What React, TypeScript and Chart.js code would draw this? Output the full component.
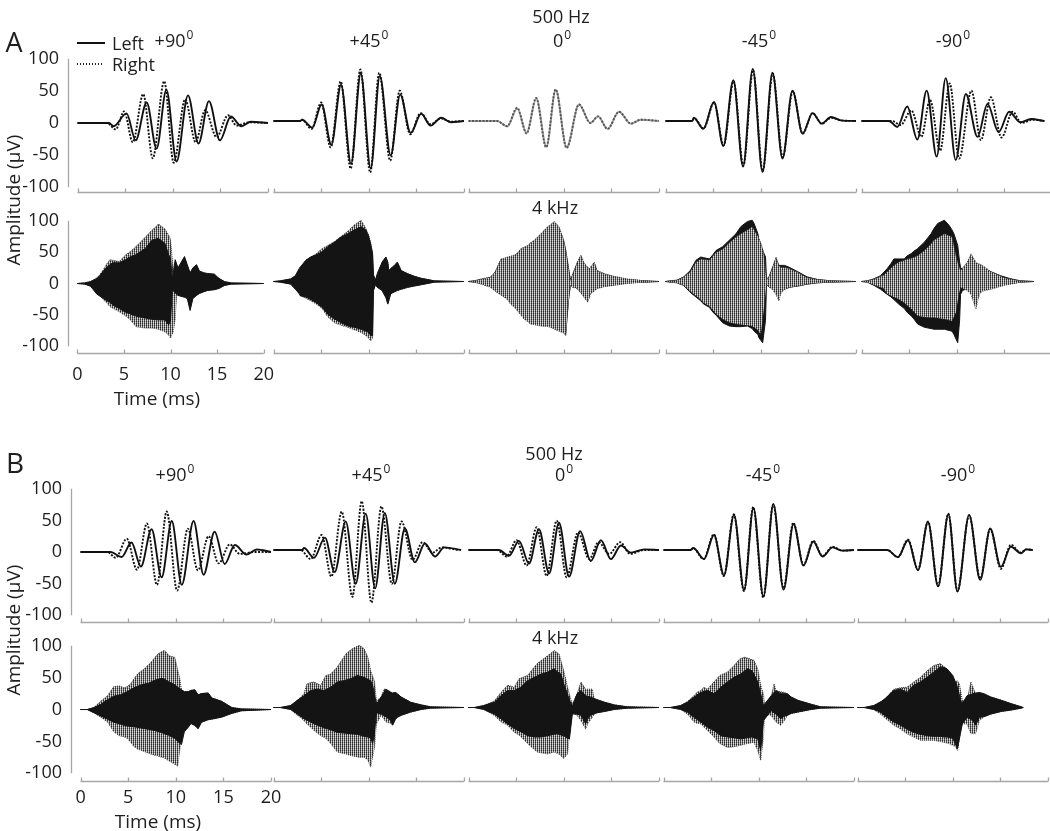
import React, { useEffect, useRef } from "react";
import { Chart, registerables } from "chart.js";

Chart.register(...registerables);

const FONT = "'Open Sans', 'Liberation Sans', sans-serif";
const INK = "#1f1d1e";
Chart.defaults.font.family = FONT;

// ---------- axis ticks / labels ----------
const timeTicks = [0, 5, 10, 15, 20];
const ampTicks = [-100, -50, 0, 50, 100];
const angleLabels = ["+90", "+45", "0", "-45", "-90"];

// ---------- 500 Hz waveforms: [time ms, amplitude uV] (extrema) ----------
const A500_p90_L = [[0,0],[3.3,0],[3.8,-5],[5.15,15],[6.1,-27],[7.26,32],[8.3,-40],[9.33,52],[10.4,-60],[11.6,43],[12.7,-32],[13.8,34],[14.95,-27],[16.1,10],[17.2,-5],[18.2,2],[20,0]];
const A500_p90_R = [[0,0],[3.1,0],[4.0,-10],[4.9,18],[5.8,-30],[6.9,45],[7.9,-55],[9.1,65],[10.1,-62],[11.3,37],[12.4,-30],[13.4,20],[14.6,-22],[15.8,12],[16.7,-4],[18,1],[20,0]];
const A500_p45_L = [[0,0],[2.8,0],[3.0,2],[4.07,-10],[5.05,25],[6.07,-36],[7.09,55],[8.14,-65],[9.16,72],[10.2,-72],[11.16,68],[12.3,-52],[13.3,40],[14.4,-18],[15.5,11],[16.5,-7],[17.6,5],[18.6,-2],[20,0]];
const A500_p45_R = [[0,0],[2.8,0],[3.0,2],[4.0,-12],[5.0,28],[6.0,-40],[7.05,60],[8.1,-72],[9.12,78],[10.15,-78],[11.1,73],[12.25,-60],[13.25,46],[14.35,-20],[15.45,12],[16.5,-5],[17.6,4],[18.6,-1],[20,0]];
const A500_0_L = [[0,0],[3.0,0],[4.07,-8],[5.12,19],[6.1,-18],[7.12,34],[8.18,-39],[9.16,47],[10.3,-40],[11.6,25],[12.8,-3],[13.6,7],[14.6,-12],[15.8,14],[17.05,-4],[18.1,2],[20,0]];
const A500_0_R = [[0,0],[3.0,0],[4.05,-8],[5.1,20],[6.1,-19],[7.1,35],[8.15,-40],[9.15,48],[10.3,-41],[11.6,25],[12.8,-3],[13.6,7],[14.6,-12],[15.8,14],[17.05,-4],[18.1,2],[20,0]];
const A500_m45_L = [[0,0],[2.8,0],[2.98,5],[3.96,-12],[5.09,29],[6.07,-38],[7.12,62],[8.14,-69],[9.16,79],[10.18,-77],[11.23,73],[12.28,-57],[13.33,46],[14.39,-19],[15.44,12],[16.39,-4],[17.37,6],[18.4,1],[20,0]];
const A500_m45_R = [[0,0],[2.8,0],[3.0,4],[4.0,-11],[5.1,28],[6.1,-37],[7.15,60],[8.17,-68],[9.19,77],[10.2,-76],[11.26,72],[12.3,-55],[13.36,45],[14.4,-19],[15.46,12],[16.4,-4],[17.4,5],[18.4,1],[20,0]];
const A500_m90_L = [[0,0],[2.88,0],[3.75,-9],[4.8,22],[5.86,-28],[6.84,46],[7.89,-54],[8.84,65],[9.89,-59],[10.95,41],[12.18,-24],[13.23,26],[14.39,-17],[15.5,14],[16.67,-2],[17.8,3],[19.2,0]];
const A500_m90_R = [[0,0],[3.2,0],[4.1,-6],[5.23,16],[6.28,-24],[7.19,32],[8.25,-45],[9.26,57],[10.25,-57],[11.54,46],[12.53,-29],[13.58,36],[14.7,-25],[15.86,14],[16.8,-3],[18,2],[19.2,0]];

const B500_p90_L = [[0,0],[3.17,0],[4.3,-8],[5.35,15],[6.34,-23],[7.46,36],[8.52,-40],[9.58,49],[10.63,-52],[11.87,49],[12.92,-36],[14.08,32],[15.14,-19],[16.2,11],[17.43,-4],[18.5,4],[20,0]];
const B500_p90_R = [[0,0],[2.82,0],[3.7,-9],[4.86,21],[5.92,-28],[6.97,45],[8.03,-52],[9.05,64],[10.14,-61],[11.27,37],[12.32,-29],[13.45,25],[14.5,-18],[15.67,12],[16.73,-3],[18.3,0],[20,0]];
const B500_p45_L = [[0,0],[3.02,0],[3.2,3],[4.25,-12],[5.4,19],[6.42,-34],[7.58,44],[8.63,-52],[9.68,56],[10.67,-59],[11.68,57],[12.74,-52],[13.79,33],[14.84,-19],[15.89,10],[16.95,-10],[17.93,4],[19.7,0]];
const B500_p45_R = [[0,0],[2.84,0],[3.9,-14],[5.05,23],[6.07,-41],[7.16,59],[8.28,-72],[9.26,75],[10.28,-81],[11.33,67],[12.42,-52],[13.44,44],[14.6,-15],[15.65,12],[16.7,-4],[17.68,4],[19.33,0]];
const B500_0_L = [[0,0],[3.19,0],[4.25,-9],[5.3,14],[6.35,-21],[7.4,32],[8.46,-36],[9.5,42],[10.56,-41],[11.72,29],[12.84,-17],[13.9,15],[14.95,-14],[16,7],[17.05,-4],[18.46,1],[20,0]];
const B500_0_R = [[0,0],[3.0,0],[4.0,-10],[5.05,15],[6.1,-24],[7.16,35],[8.2,-40],[9.26,45],[10.3,-42],[11.5,27],[12.67,-14],[13.65,12],[14.77,-6],[15.93,12],[16.98,-6],[18.46,0],[20,0]];
const B500_m45_L = [[0,0],[2.84,0],[3.12,3],[4.25,-14],[5.3,23],[6.35,-39],[7.4,54],[8.46,-62],[9.44,65],[10.49,-72],[11.54,71],[12.6,-61],[13.65,40],[14.7,-24],[15.72,13],[16.7,-10],[17.75,4],[18.8,-1],[20,0]];
const B500_m45_R = [[0,0],[2.84,0],[3.1,3],[4.22,-14],[5.28,24],[6.33,-40],[7.38,55],[8.44,-63],[9.42,66],[10.47,-73],[11.52,70],[12.6,-59],[13.63,42],[14.7,-23],[15.72,14],[16.7,-9],[17.75,5],[18.8,-1],[20,0]];
const B500_m90_L = [[0,0],[3.12,0],[4.25,-11],[5.3,15],[6.35,-31],[7.4,43],[8.46,-56],[9.54,55],[10.49,-64],[11.72,54],[12.88,-46],[13.93,33],[15.05,-26],[16.1,5],[17.16,-5],[17.7,1],[18.4,0]];
const B500_m90_R = [[0,0],[3.12,0],[4.25,-11],[5.3,16],[6.35,-30],[7.4,44],[8.46,-55],[9.54,56],[10.49,-63],[11.72,53],[12.88,-44],[13.93,32],[15.05,-29],[16.1,8],[17.16,-4],[17.7,1],[18.4,0]];

// ---------- 4 kHz responses: envelope [time ms, upper uV, lower uV] ----------
const A4k_p90_L = [[0,0,0],[0.8,1,-1],[1.4,3,-4],[2.1,8,-17],[2.4,12,-20],[2.8,20,-24],[3.1,25,-27],[3.5,30,-30],[3.8,33,-34],[4.5,33,-40],[5.2,38,-46],[5.6,42,-48],[6.3,46,-52],[6.6,49,-53],[7.3,56,-55],[8.0,69,-57],[8.7,72,-58],[9.4,64,-58],[9.8,46,-66],[10.0,40,-60],[10.2,5,-8],[10.4,28,-14],[10.5,38,-15],[10.8,25,-19],[11.5,43,-22],[11.8,30,-24],[12.1,17,-43],[12.4,25,-24],[12.8,30,-19],[13.1,20,-16],[13.6,17,-13],[14.0,16,-11],[14.7,15,-10],[15.2,8,-8],[15.8,3,-3],[16.5,1,-1],[20,0,0]];
const A4k_p90_R = [[0,0,0],[0.8,1,-1],[1.4,3,-4],[2.1,9,-12],[2.4,14,-17],[2.8,22,-26],[3.1,30,-30],[3.5,38,-37],[4.5,35,-45],[5.2,46,-52],[5.7,51,-58],[6.3,59,-69],[7.3,74,-71],[8.0,85,-71],[8.4,90,-72],[8.7,95,-73],[9.4,87,-77],[9.8,77,-82],[10.0,70,-87],[10.3,20,-77],[10.5,10,-56],[10.7,20,-9],[11.5,40,-20],[11.8,28,-22],[12.1,15,-40],[12.4,22,-22],[12.8,28,-18],[13.1,18,-15],[13.6,15,-12],[14.7,13,-9],[15.8,3,-3],[16.5,1,-1],[20,0,0]];
const A4k_p45_L = [[0,0,0],[0.7,1,-1],[1.8,4,-4],[2.3,9,-12],[2.7,20,-18],[2.8,22,-22],[3.4,33,-24],[3.9,38,-28],[4.4,41,-32],[5.1,46,-40],[5.7,54,-51],[6.4,61,-58],[7.1,69,-64],[7.8,74,-69],[8.5,80,-71],[9.2,85,-74],[9.7,80,-77],[10.0,69,-79],[10.2,58,-84],[10.4,43,-84],[10.5,10,-14],[10.7,2,-5],[10.9,12,-9],[11.4,30,-14],[11.8,38,-25],[12.0,30,-35],[12.1,17,-30],[12.3,20,-19],[12.7,25,-16],[13.0,30,-14],[13.4,17,-12],[14.1,12,-9],[14.8,8,-7],[15.5,5,-5],[16.2,3,-3],[16.9,1,-1],[20,0,0]];
const A4k_p45_R = [[0,0,0],[0.7,1,-1],[1.8,4,-4],[2.3,9,-12],[2.8,22,-22],[3.4,33,-26],[3.9,38,-30],[4.4,42,-34],[5.1,51,-42],[5.7,56,-55],[6.4,62,-64],[7.1,70,-68],[7.8,78,-71],[8.5,88,-75],[9.2,95,-79],[9.7,82,-84],[10.0,72,-88],[10.2,60,-92],[10.4,45,-88],[10.5,10,-14],[10.7,2,-5],[10.9,12,-9],[11.4,30,-14],[11.8,38,-25],[12.0,30,-35],[12.1,17,-30],[12.3,20,-19],[12.7,25,-16],[13.0,30,-14],[13.4,17,-12],[14.1,12,-9],[14.8,8,-7],[15.5,5,-5],[16.2,3,-3],[16.9,1,-1],[20,0,0]];
const A4k_0_L = [[0,0,0],[0.6,1,-1],[1.3,3,-3],[2.3,6,-8],[2.8,14,-14],[3.4,33,-20],[4.1,36,-27],[4.8,39,-38],[5.5,49,-50],[6.2,54,-60],[6.9,62,-65],[7.6,72,-67],[8.3,83,-68],[9.0,90,-72],[9.5,83,-75],[10.0,62,-78],[10.2,48,-82],[10.5,20,-28],[10.7,2,-5],[10.9,9,-8],[11.4,28,-10],[11.8,39,-17],[12.1,28,-22],[12.5,20,-30],[12.8,20,-18],[13.2,28,-14],[13.5,16,-10],[14.3,11,-7],[15.3,7,-5],[16.7,3,-2],[18.5,1,-1],[20,0,0]];
const A4k_0_R = [[0,0,0],[0.6,1,-1],[1.3,4,-4],[2.3,7,-9],[2.8,15,-15],[3.4,35,-21],[3.7,36,-24],[4.1,38,-28],[4.4,39,-35],[4.8,41,-40],[5.1,43,-45],[5.5,51,-52],[5.8,53,-58],[6.2,56,-62],[6.5,60,-66],[6.9,64,-67],[7.6,74,-69],[8.3,85,-70],[8.6,88,-71],[9.0,93,-74],[9.5,85,-77],[10.0,64,-80],[10.2,50,-84],[10.5,22,-30],[10.7,2,-5],[10.9,10,-9],[11.3,25,-10],[11.4,30,-11],[11.8,41,-18],[12.1,30,-24],[12.5,22,-32],[12.7,20,-25],[12.8,22,-19],[13.2,30,-15],[13.5,17,-11],[14.3,12,-8],[15.3,8,-6],[16.7,4,-3],[18.5,1,-1],[20,0,0]];
const A4k_m45_L = [[0,0,0],[0.5,1,-1],[1.2,2,-2],[1.9,7,-6],[2.6,17,-17],[3.2,33,-24],[3.7,38,-30],[4.0,37,-35],[4.6,35,-40],[5.0,42,-48],[5.3,48,-52],[6.0,54,-64],[6.7,64,-69],[7.4,74,-70],[7.9,85,-70],[8.6,93,-69],[9.1,95,-73],[9.3,90,-77],[9.7,74,-82],[9.8,65,-87],[10.2,48,-95],[10.5,38,-60],[10.6,3,-4],[10.9,8,-9],[11.2,20,-10],[11.6,35,-12],[11.9,25,-14],[12.5,25,-12],[13.0,22,-9],[13.9,15,-7],[14.9,7,-4],[16.0,3,-2],[17.4,1,-1],[20,0,0]];
const A4k_m45_R = [[0,0,0],[0.5,1,-1],[1.2,2,-2],[1.9,7,-6],[2.6,15,-15],[3.2,30,-22],[3.7,35,-28],[4.0,34,-33],[4.6,33,-38],[5.3,45,-50],[6.0,50,-58],[6.7,60,-63],[7.5,70,-66],[8.6,80,-68],[9.1,85,-69],[9.7,70,-75],[10.0,60,-82],[10.3,45,-45],[10.6,3,-4],[10.9,8,-9],[11.2,20,-12],[11.6,38,-20],[11.9,25,-30],[12.1,22,-19],[12.5,22,-12],[13.0,20,-9],[13.9,14,-7],[14.9,6,-4],[16.0,3,-2],[17.4,1,-1],[20,0,0]];
const A4k_m90_L = [[0,0,0],[0.6,1,-1],[1.3,4,-6],[2.0,9,-12],[2.7,20,-20],[3.1,28,-24],[3.4,35,-28],[3.9,35,-35],[4.5,35,-42],[4.8,40,-48],[5.2,43,-53],[5.5,47,-58],[5.9,51,-66],[6.6,61,-71],[7.3,74,-73],[7.6,82,-74],[8.0,90,-74],[8.7,95,-74],[9.2,87,-76],[9.5,80,-77],[9.7,74,-82],[10.1,56,-95],[10.3,30,-60],[10.4,22,-20],[10.6,18,-14],[11.1,15,-11],[11.5,17,-9],[12.2,18,-9],[12.9,20,-9],[13.6,15,-8],[14.6,9,-5],[15.7,4,-3],[16.7,1,-1],[18.1,0,0]];
const A4k_m90_R = [[0,0,0],[0.6,1,-1],[1.3,4,-5],[2.0,8,-9],[2.35,10,-11],[2.7,15,-19],[3.4,25,-24],[3.9,30,-27],[4.5,33,-33],[4.8,35,-37],[5.2,36,-42],[5.9,40,-53],[6.6,48,-55],[7.3,58,-56],[7.6,64,-56],[8.7,74,-58],[9.5,69,-61],[9.9,41,-48],[10.2,25,-20],[10.4,17,-9],[11.1,30,-14],[11.5,43,-20],[12.0,30,-43],[12.2,28,-30],[12.4,27,-19],[12.7,25,-15],[13.6,15,-12],[15.0,6,-6],[16.7,1,-1],[18.1,0,0]];

const B4k_p90_L = [[0,0,0],[0.7,0,0],[1.4,3,-5],[2.1,8,-10],[2.8,15,-15],[3.5,21,-20],[4.2,23,-23],[4.6,26,-25],[4.9,28,-26],[5.6,34,-27],[6.4,39,-29],[6.7,40,-30],[7.1,41,-31],[7.8,46,-33],[8.5,49,-36],[8.8,48,-38],[9.2,44,-40],[9.9,39,-45],[10.2,35,-50],[10.6,31,-55],[10.9,28,-35],[11.3,28,-28],[11.6,30,-22],[12.0,31,-25],[12.35,23,-30],[12.7,25,-20],[13.4,26,-16],[13.8,18,-15],[14.8,13,-12],[15.9,3,-6],[16.9,1,-2],[20,0,0]];
const B4k_p90_R = [[0,0,0],[0.7,0,0],[1.4,3,-5],[2.1,13,-12],[2.8,21,-19],[3.5,36,-35],[4.06,37,-41],[4.6,34,-43],[4.9,36,-45],[5.3,41,-52],[5.6,48,-58],[6.0,56,-62],[6.7,64,-66],[7.4,74,-70],[8.1,87,-73],[8.8,93,-76],[9.35,84,-81],[9.9,82,-86],[10.2,62,-89],[10.4,50,-66],[10.6,31,-40],[10.9,28,-33],[11.3,28,-28],[11.6,30,-22],[12.0,31,-25],[12.35,23,-30],[12.7,25,-20],[13.4,26,-16],[13.8,18,-15],[14.8,13,-12],[15.9,3,-6],[16.9,1,-2],[20,0,0]];
const B4k_p45_L = [[0,0,0],[0.7,0,0],[1.8,3,-3],[2.5,11,-10],[3.2,18,-17],[3.9,26,-22],[4.6,28,-27],[5.3,26,-31],[6.0,31,-34],[6.7,39,-38],[7.4,41,-39],[8.1,44,-40],[8.8,49,-41],[9.5,46,-44],[10.2,41,-46],[10.4,34,-55],[10.6,20,-40],[10.8,5,-8],[11.3,16,-10],[11.8,28,-14],[12.3,23,-20],[12.5,22,-27],[12.8,23,-18],[13.0,21,-15],[13.4,16,-12],[14.4,8,-7],[15.5,4,-3],[16.5,1,-1],[20,0,0]];
const B4k_p45_R = [[0,0,0],[0.7,0,0],[1.8,3,-3],[2.5,11,-12],[2.8,15,-15],[3.2,21,-20],[3.5,36,-25],[3.9,38,-30],[4.25,39,-35],[4.95,34,-43],[5.5,49,-47],[6.0,51,-55],[6.7,62,-68],[7.6,82,-71],[8.3,90,-74],[9.0,95,-76],[9.5,90,-76],[9.9,77,-80],[10.2,56,-91],[10.6,40,-61],[10.8,10,-25],[11.3,16,-12],[11.6,28,-18],[11.8,28,-22],[12.3,24,-24],[12.5,22,-27],[12.8,23,-18],[13.0,21,-15],[13.4,16,-12],[14.4,8,-7],[15.5,4,-3],[16.5,1,-1],[20,0,0]];
const B4k_0_L = [[0,0,0],[0.6,0,0],[1.6,3,-3],[2.7,8,-10],[3.4,18,-17],[4.1,26,-25],[4.8,26,-32],[5.5,31,-37],[6.2,41,-43],[6.9,46,-45],[7.6,51,-45],[8.3,54,-43],[9.0,59,-41],[9.3,55,-40],[9.7,51,-42],[10.0,36,-43],[10.4,20,-47],[10.6,11,-48],[10.9,2,-10],[11.4,21,-10],[11.8,26,-12],[12.3,18,-25],[12.5,17,-18],[12.8,16,-12],[13.5,12,-8],[14.3,8,-6],[15.3,4,-3],[16.7,1,-1],[20,0,0]];
const B4k_0_R = [[0,0,0],[0.6,0,0],[1.6,3,-3],[2.7,10,-12],[3.4,23,-22],[4.1,34,-27],[4.8,31,-38],[5.3,44,-42],[6.2,49,-55],[7.2,67,-68],[8.3,79,-71],[9.0,87,-68],[9.5,82,-71],[10.0,56,-78],[10.4,31,-71],[10.6,20,-40],[10.9,5,-8],[11.4,21,-12],[11.8,39,-20],[12.3,28,-33],[12.5,28,-25],[13.0,28,-15],[13.2,13,-10],[13.5,12,-8],[14.3,8,-6],[15.3,4,-3],[16.7,1,-1],[20,0,0]];
const B4k_m45_L = [[0,0,0],[0.7,0,0],[1.8,3,-3],[2.5,8,-7],[3.2,16,-15],[3.9,23,-22],[4.6,26,-30],[5.3,21,-35],[6.0,31,-43],[6.7,39,-45],[7.4,46,-46],[8.1,51,-48],[8.8,59,-46],[9.3,56,-45],[9.9,39,-48],[10.2,21,-66],[10.5,3,-20],[11.3,18,-5],[11.8,26,-10],[12.3,21,-17],[12.7,21,-13],[13.0,21,-12],[13.4,16,-9],[14.1,11,-7],[15.5,5,-3],[16.5,1,-1],[20,0,0]];
const B4k_m45_R = [[0,0,0],[0.7,0,0],[1.8,3,-3],[2.5,9,-10],[3.2,18,-22],[3.5,23,-24],[3.9,26,-25],[4.25,31,-30],[4.6,28,-35],[5.3,39,-45],[5.9,49,-55],[6.7,54,-61],[7.4,64,-60],[8.0,74,-58],[8.5,77,-56],[9.5,72,-53],[9.9,59,-66],[10.2,34,-81],[10.5,20,-45],[10.6,5,-10],[11.3,16,-12],[11.6,36,-18],[11.8,26,-22],[12.3,24,-27],[12.7,23,-20],[13.0,21,-12],[13.4,16,-9],[14.1,11,-7],[15.5,5,-3],[16.5,1,-1],[20,0,0]];
const B4k_m90_L = [[0,0,0],[0.7,0,0],[1.7,3,-3],[2.4,8,-7],[3.1,16,-15],[3.8,26,-22],[4.5,28,-27],[5.2,23,-33],[5.9,34,-38],[6.6,39,-41],[7.3,46,-43],[8.0,54,-44],[8.7,62,-44],[9.1,61,-45],[9.4,59,-45],[10.0,49,-47],[10.5,31,-63],[10.8,12,-40],[11.0,6,-25],[11.5,18,-15],[12.1,21,-20],[12.4,22,-27],[12.8,23,-15],[13.3,21,-14],[14.0,16,-10],[15.1,11,-6],[16.1,6,-4],[17.2,1,-1],[17.4,0,0]];
const B4k_m90_R = [[0,0,0],[0.7,0,0],[1.7,3,-3],[2.4,9,-10],[2.8,12,-15],[3.8,28,-27],[4.5,30,-33],[5.2,31,-40],[5.9,39,-45],[6.6,46,-50],[7.3,56,-50],[8.0,64,-50],[8.7,67,-52],[9.6,56,-55],[10.3,39,-60],[10.5,41,-66],[10.7,36,-45],[11.0,11,-25],[11.5,11,-25],[11.9,39,-40],[12.4,21,-40],[12.8,18,-20],[13.3,18,-14],[14.0,16,-10],[15.1,11,-6],[16.1,6,-4],[17.2,1,-1],[17.4,0,0]];

// ---------- panel groupings ----------
const A500 = [
  { L: A500_p90_L, R: A500_p90_R, gray: false },
  { L: A500_p45_L, R: A500_p45_R, gray: false },
  { L: A500_0_L, R: A500_0_R, gray: true },
  { L: A500_m45_L, R: A500_m45_R, gray: false },
  { L: A500_m90_L, R: A500_m90_R, gray: false },
];
const B500 = [
  { L: B500_p90_L, R: B500_p90_R, gray: false },
  { L: B500_p45_L, R: B500_p45_R, gray: false },
  { L: B500_0_L, R: B500_0_R, gray: false },
  { L: B500_m45_L, R: B500_m45_R, gray: false },
  { L: B500_m90_L, R: B500_m90_R, gray: false },
];
const A4k = [
  { L: A4k_p90_L, R: A4k_p90_R, rightOnTop: false },
  { L: A4k_p45_L, R: A4k_p45_R, rightOnTop: false },
  { L: A4k_0_L, R: A4k_0_R, rightOnTop: true },
  { L: A4k_m45_L, R: A4k_m45_R, rightOnTop: true },
  { L: A4k_m90_L, R: A4k_m90_R, rightOnTop: true },
];
const B4k = [
  { L: B4k_p90_L, R: B4k_p90_R, rightOnTop: false },
  { L: B4k_p45_L, R: B4k_p45_R, rightOnTop: false },
  { L: B4k_0_L, R: B4k_0_R, rightOnTop: false },
  { L: B4k_m45_L, R: B4k_m45_R, rightOnTop: false },
  { L: B4k_m90_L, R: B4k_m90_R, rightOnTop: false },
];

// ---------- layout ----------
const PAD_L = 50;
const PAD_R = 16;
const PAD_T = 16;
const PAD_B = 40;
const CHART_W = 200;

type Row = { yTop: number; yBot: number; axisY: number; xTickPad: number };
const SECTIONS = [
  {
    x0s: [77, 273, 468, 665, 861],
    rows: [
      { yTop: 55, yBot: 187, axisY: 193, xTickPad: 10 },
      { yTop: 217, yBot: 346, axisY: 354, xTickPad: 10 },
    ],
    low: A500,
    high: A4k,
  },
  {
    x0s: [80, 273, 468, 663, 857],
    rows: [
      { yTop: 485, yBot: 615, axisY: 623, xTickPad: 5 },
      { yTop: 642, yBot: 773, axisY: 782, xTickPad: 5 },
    ],
    low: B500,
    high: B4k,
  },
];

type PanelSpec = {
  key: string;
  x0: number;
  row: Row;
  kind: "500" | "4k";
  series: any;
  showY: boolean;
  showX: boolean;
};

const PANELS: PanelSpec[] = [];
SECTIONS.forEach((sec, si) => {
  sec.rows.forEach((row, ri) => {
    sec.x0s.forEach((x0, ci) => {
      PANELS.push({
        key: `${si}-${ri}-${ci}`,
        x0,
        row,
        kind: ri === 0 ? "500" : "4k",
        series: ri === 0 ? sec.low[ci] : sec.high[ci],
        showY: ci === 0,
        showX: ci === 0 && ri === 1,
      });
    });
  });
});

// ---------- helpers ----------
const offsetAxes = {
  id: "offsetAxes",
  afterDatasetsDraw(chart: any, _args: any, opts: any) {
    const { ctx, chartArea, scales } = chart;
    const x = scales.x;
    const y = scales.y;
    ctx.save();
    ctx.strokeStyle = "#a6a6a6";
    ctx.lineWidth = 1.3;
    const yb = Math.round(chartArea.bottom) - 0.5;
    ctx.beginPath();
    ctx.moveTo(x.getPixelForValue(timeTicks[0]), yb);
    ctx.lineTo(x.getPixelForValue(timeTicks[timeTicks.length - 1]), yb);
    timeTicks.forEach((v) => {
      const px = Math.round(x.getPixelForValue(v)) + 0.5;
      ctx.moveTo(px, yb);
      ctx.lineTo(px, yb - 4);
    });
    if (opts && opts.yAxis) {
      const xl = Math.round(chartArea.left) + 0.5;
      ctx.moveTo(xl, y.getPixelForValue(ampTicks[0]));
      ctx.lineTo(xl, y.getPixelForValue(ampTicks[ampTicks.length - 1]));
    }
    ctx.stroke();
    ctx.restore();
  },
};

function makePattern(): any {
  const c = document.createElement("canvas");
  c.width = 2;
  c.height = 2;
  const g = c.getContext("2d");
  if (!g) return "#8a8a8a";
  g.fillStyle = "#2a2a2a";
  g.fillRect(0, 0, 1, 1);
  g.fillStyle = "#555555";
  g.fillRect(0, 1, 1, 1);
  g.fillStyle = "#b4b4b4";
  g.fillRect(1, 0, 1, 1);
  g.fillStyle = "#dcdcdc";
  g.fillRect(1, 1, 1, 1);
  return g.createPattern(c, "repeat") || "#8a8a8a";
}

function waveDatasets(s: any) {
  const L = {
    data: s.L.map(([t, v]: number[]) => ({ x: t, y: v })),
    borderColor: s.gray ? "#a0a0a0" : "#111",
    borderWidth: 1.9,
    pointRadius: 0,
    cubicInterpolationMode: "monotone",
    fill: false,
  };
  const R = {
    data: s.R.map(([t, v]: number[]) => ({ x: t, y: v })),
    borderColor: s.gray ? "#555" : "#111",
    borderWidth: 1.9,
    borderDash: [2, 1.5],
    pointRadius: 0,
    cubicInterpolationMode: "monotone",
    fill: false,
  };
  return s.gray ? [R, L] : [L, R];
}

function envelope(arr: number[][], fillStyle: any, edge: string, dash: number[]) {
  return [
    {
      data: arr.map(([t, hi]) => ({ x: t, y: hi })),
      borderColor: edge,
      borderWidth: 1,
      borderDash: dash,
      backgroundColor: fillStyle,
      fill: "+1",
      pointRadius: 0,
      tension: 0,
    },
    {
      data: arr.map(([t, , lo]) => ({ x: t, y: lo })),
      borderColor: edge,
      borderWidth: 1,
      borderDash: dash,
      pointRadius: 0,
      tension: 0,
      fill: false,
    },
  ];
}

function envDatasets(s: any, pattern: any) {
  const left = envelope(s.L, "#141414", "#141414", []);
  const right = envelope(s.R, pattern, "#3a3a3a", [1, 1]);
  return s.rightOnTop ? [...right, ...left] : [...left, ...right];
}

function buildConfig(spec: PanelSpec): any {
  const { row } = spec;
  const unit = (row.yBot - row.yTop) / 200;
  const yMin = -100 - (row.axisY - row.yBot) / unit;
  const datasets = spec.kind === "500" ? waveDatasets(spec.series) : envDatasets(spec.series, makePattern());
  const tickFont = { family: FONT, size: 18 };
  return {
    type: "line",
    data: { datasets },
    options: {
      animation: false,
      responsive: false,
      devicePixelRatio: 1,
      events: [],
      layout: { padding: { left: 0, right: PAD_R, top: PAD_T, bottom: 0 } },
      plugins: {
        legend: { display: false },
        tooltip: { enabled: false },
        offsetAxes: { yAxis: spec.showY },
      },
      scales: {
        x: {
          type: "linear",
          min: -1,
          max: 20,
          afterBuildTicks: (s: any) => {
            s.ticks = timeTicks.map((v) => ({ value: v }));
          },
          afterFit: (s: any) => {
            s.height = PAD_B;
          },
          grid: { display: false, drawTicks: false },
          border: { display: false },
          ticks: {
            display: spec.showX,
            padding: row.xTickPad,
            maxRotation: 0,
            autoSkip: false,
            font: tickFont,
            color: INK,
          },
        },
        y: {
          type: "linear",
          min: yMin,
          max: 100,
          afterBuildTicks: (s: any) => {
            s.ticks = ampTicks.map((v) => ({ value: v }));
          },
          afterFit: (s: any) => {
            s.width = PAD_L;
          },
          grid: { display: false, drawTicks: false },
          border: { display: false },
          ticks: { display: spec.showY, padding: 9, font: tickFont, color: INK },
        },
      },
    },
    plugins: [offsetAxes],
  };
}

function Panel({ spec }: { spec: PanelSpec }) {
  const ref = useRef<HTMLCanvasElement | null>(null);
  const { x0, row } = spec;
  const chartLeft = x0 - 9;
  const w = PAD_L + CHART_W + PAD_R;
  const h = PAD_T + (row.axisY - row.yTop) + PAD_B;
  useEffect(() => {
    const canvas = ref.current;
    if (!canvas) return;
    const chart = new Chart(canvas, buildConfig(spec));
    return () => chart.destroy();
  }, [spec]);
  return (
    <canvas
      ref={ref}
      width={w}
      height={h}
      style={{ position: "absolute", left: chartLeft - PAD_L, top: row.yTop - PAD_T, width: w, height: h }}
    />
  );
}

function Txt({ x, y, size = 18, children, align = "center", rotate = 0 }: any) {
  const tx = align === "center" ? "-50%" : "0";
  return (
    <div
      style={{
        position: "absolute",
        left: x,
        top: y,
        fontSize: size,
        lineHeight: 1,
        whiteSpace: "nowrap",
        transform: `translate(${tx}, -50%) rotate(${rotate}deg)`,
      }}
    >
      {children}
    </div>
  );
}

function Angle({ label }: { label: string }) {
  return (
    <span>
      {label}
      <span style={{ fontSize: 12, position: "relative", top: -8, marginLeft: 1 }}>0</span>
    </span>
  );
}

const TITLE_X_A = [174, 369, 562, 759, 953];
const TITLE_X_B = [175, 371, 564, 763, 958];

export default function App() {
  return (
    <div
      style={{
        position: "absolute",
        left: 0,
        top: 0,
        width: 1050,
        height: 831,
        overflow: "hidden",
        background: "#fff",
        fontFamily: FONT,
        color: INK,
      }}
    >
      {PANELS.map((p) => (
        <Panel key={p.key} spec={p} />
      ))}

      <Txt x={14} y={41} size={27}>A</Txt>
      <Txt x={15} y={462} size={28}>B</Txt>

      <Txt x={561} y={16} size={18}>500 Hz</Txt>
      <Txt x={555} y={207} size={18}>4 kHz</Txt>
      <Txt x={554} y={453} size={18}>500 Hz</Txt>
      <Txt x={555} y={637} size={18}>4 kHz</Txt>

      {angleLabels.map((a, i) => (
        <Txt key={"ta" + i} x={TITLE_X_A[i]} y={40} size={18}>
          <Angle label={a} />
        </Txt>
      ))}
      {angleLabels.map((a, i) => (
        <Txt key={"tb" + i} x={TITLE_X_B[i]} y={474} size={18}>
          <Angle label={a} />
        </Txt>
      ))}

      {/* legend */}
      <div style={{ position: "absolute", left: 77, top: 42, width: 28, height: 2, background: "#111" }} />
      <Txt x={112} y={43} size={18} align="left">Left</Txt>
      <div
        style={{
          position: "absolute",
          left: 77,
          top: 63,
          width: 26,
          height: 2,
          background: "repeating-linear-gradient(to right, #222 0 1.5px, transparent 1.5px 3px)",
        }}
      />
      <Txt x={112} y={64} size={18} align="left">Right</Txt>

      <Txt x={13} y={200} size={19} rotate={-90}>Amplitude (μV)</Txt>
      <Txt x={13} y={630} size={19} rotate={-90}>Amplitude (μV)</Txt>

      <Txt x={157} y={398} size={19}>Time (ms)</Txt>
      <Txt x={158} y={821} size={19}>Time (ms)</Txt>
    </div>
  );
}
